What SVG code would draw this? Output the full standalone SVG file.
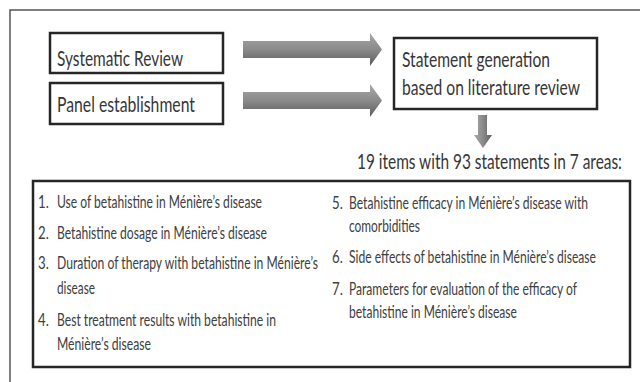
<svg xmlns="http://www.w3.org/2000/svg" width="640" height="382" viewBox="0 0 640 382">
<defs>
<linearGradient id="gh" x1="0" y1="0" x2="0" y2="1">
<stop offset="0" stop-color="#a8a8a8"/>
<stop offset="0.5" stop-color="#8a8a8a"/>
<stop offset="1" stop-color="#5c5c5c"/>
</linearGradient>
<linearGradient id="gv" x1="0" y1="0" x2="1" y2="0">
<stop offset="0" stop-color="#a8a8a8"/>
<stop offset="0.5" stop-color="#8a8a8a"/>
<stop offset="1" stop-color="#5c5c5c"/>
</linearGradient>
<style>
.box{fill:#fff;stroke:#262626;stroke-width:2.5}
.frame{fill:none;stroke:#555;stroke-width:1.5}
.t{font-family:Lato,"Liberation Sans",sans-serif;fill:#363636}
.big{font-size:21px}
.li{font-size:16.5px;fill:#404040}
</style>
</defs>
<path class="frame" d="M10,382 V10 H640"/>
<g id="connectors">
<path id="arrow1" d="M243,41 H370 V33 L382,49.5 L370,66 V58 H243 Z" fill="url(#gh)"/>
<path id="arrow2" d="M243,92 H370 V84 L382,100.5 L370,117 V109 H243 Z" fill="url(#gh)"/>
<path id="arrow3" d="M478,115 H487 V135 H492 L483,148 L474,135 H478 Z" fill="url(#gv)"/>
</g>
<g id="systematic-review">
<rect class="box" x="50" y="33" width="173" height="40"/>
<g transform="scale(0.8,1)"><text class="t big" x="71.25" y="66" textLength="157.5" lengthAdjust="spacingAndGlyphs">Systematic Review</text></g>
</g>
<g id="panel-establishment">
<rect class="box" x="50" y="83" width="173" height="41"/>
<g transform="scale(0.8,1)"><text class="t big" x="71.25" y="112" textLength="172.5" lengthAdjust="spacingAndGlyphs">Panel establishment</text></g>
</g>
<g id="statement-generation">
<rect class="box" x="394" y="38" width="203" height="71"/>
<g transform="scale(0.8,1)">
<text class="t big" x="502.5" y="67" textLength="185" lengthAdjust="spacingAndGlyphs">Statement generation</text>
<text class="t big" x="502.5" y="95" textLength="222.5" lengthAdjust="spacingAndGlyphs">based on literature review</text>
</g>
</g>
<g id="items-label">
<g transform="scale(0.68,1)"><text class="t big" x="525" y="169" textLength="389.7" lengthAdjust="spacingAndGlyphs">19 items with 93 statements in 7 areas:</text></g>
</g>
<g id="areas-list">
<rect class="box" x="33" y="181" width="597" height="186"/>
<g class="t li" transform="scale(0.8,1)">
<text x="47.5" y="208">1.</text>
<text x="71.25" y="208" textLength="256.25" lengthAdjust="spacingAndGlyphs">Use of betahistine in Ménière’s disease</text>
<text x="47.5" y="239">2.</text>
<text x="71.25" y="239" textLength="262.5" lengthAdjust="spacingAndGlyphs">Betahistine dosage in Ménière’s disease</text>
<text x="47.5" y="269">3.</text>
<text x="71.25" y="294" textLength="47.5" lengthAdjust="spacingAndGlyphs">disease</text>
<text x="47.5" y="326">4.</text>
<text x="71.25" y="326" textLength="273.75" lengthAdjust="spacingAndGlyphs">Best treatment results with betahistine in</text>
<text x="71.25" y="350" textLength="117.5" lengthAdjust="spacingAndGlyphs">Ménière’s disease</text>
<text x="415" y="209">5.</text>
<text x="436.25" y="209" textLength="298.75" lengthAdjust="spacingAndGlyphs">Betahistine efficacy in Ménière’s disease with</text>
<text x="436.25" y="232" textLength="88.75" lengthAdjust="spacingAndGlyphs">comorbidities</text>
<text x="415" y="263">6.</text>
<text x="436.25" y="263" textLength="308.75" lengthAdjust="spacingAndGlyphs">Side effects of betahistine in Ménière’s disease</text>
<text x="415" y="295">7.</text>
<text x="436.25" y="295" textLength="285" lengthAdjust="spacingAndGlyphs">Parameters for evaluation of the efficacy of</text>
<text x="436.25" y="318" textLength="210" lengthAdjust="spacingAndGlyphs">betahistine in Ménière’s disease</text>
</g>
<g class="t li" transform="scale(0.7,1)">
<text x="81.43" y="269" textLength="372.86" lengthAdjust="spacingAndGlyphs">Duration of therapy with betahistine in Ménière’s</text>
</g>
</g>
</svg>
